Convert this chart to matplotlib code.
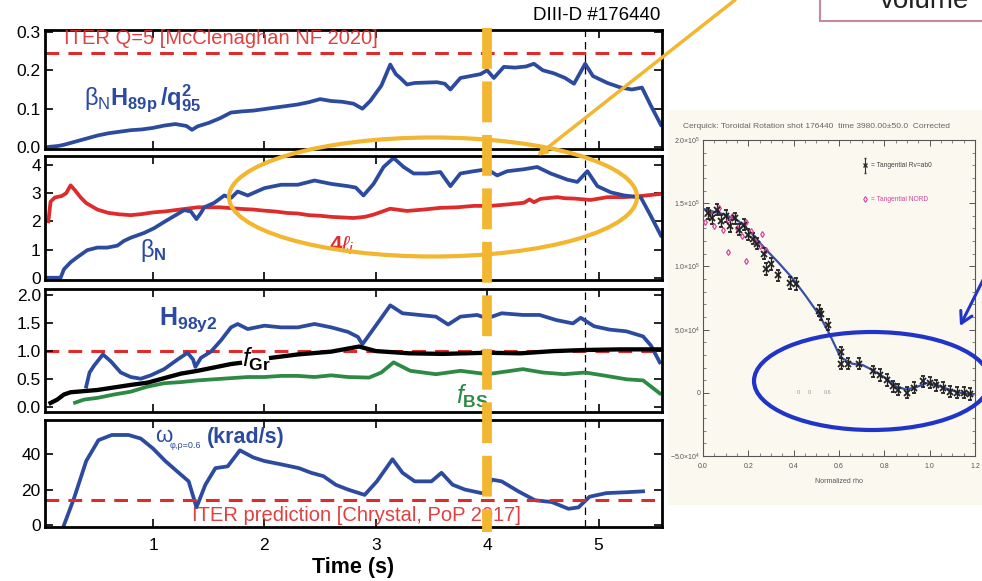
import numpy as np
import matplotlib
matplotlib.use('Agg')
import matplotlib.pyplot as plt
from matplotlib import transforms
from matplotlib.lines import Line2D
from matplotlib.patches import Ellipse, Rectangle
from matplotlib.ticker import MultipleLocator

plt.rcParams['font.family'] = ['Liberation Sans', 'DejaVu Sans']
plt.rcParams['mathtext.fontset'] = 'custom'
plt.rcParams['mathtext.rm'] = 'Liberation Sans'
plt.rcParams['mathtext.it'] = 'Liberation Sans:italic'
plt.rcParams['mathtext.bf'] = 'Liberation Sans:bold'

# --- DIII-D #176440 time traces ---
# beta_N H89p / q95^2
t_q = [0.05, 0.15, 0.2, 0.3, 0.4, 0.5, 0.6, 0.7, 0.8, 0.9, 1.0, 1.1, 1.2, 1.3, 1.35, 1.4,
       1.5, 1.6, 1.7, 1.8, 1.9, 2.0, 2.1, 2.2, 2.3, 2.4, 2.5, 2.6, 2.7, 2.8, 2.88, 2.95,
       3.05, 3.13, 3.18, 3.22, 3.28, 3.35, 3.45, 3.55, 3.62, 3.67, 3.76, 3.85, 3.94, 4.0,
       4.06, 4.15, 4.25, 4.35, 4.42, 4.5, 4.6, 4.7, 4.78, 4.88, 4.95, 5.08, 5.2, 5.3,
       5.39, 5.47, 5.56]
bnh_q2 = [0.0, 0.003, 0.006, 0.014, 0.022, 0.030, 0.036, 0.040, 0.044, 0.046, 0.050, 0.056,
          0.060, 0.055, 0.045, 0.054, 0.063, 0.075, 0.090, 0.093, 0.095, 0.099, 0.103, 0.107,
          0.111, 0.117, 0.125, 0.120, 0.118, 0.113, 0.100, 0.120, 0.160, 0.215, 0.190, 0.180,
          0.163, 0.167, 0.168, 0.169, 0.165, 0.150, 0.180, 0.185, 0.190, 0.200, 0.180, 0.209,
          0.207, 0.210, 0.217, 0.200, 0.192, 0.180, 0.165, 0.217, 0.185, 0.167, 0.155, 0.150,
          0.155, 0.108, 0.058]

# 4 * internal inductance
t_li = [0.06, 0.08, 0.12, 0.18, 0.22, 0.26, 0.3, 0.35, 0.4, 0.5, 0.6, 0.7, 0.8, 0.9, 1.0,
        1.1, 1.2, 1.3, 1.4, 1.5, 1.6, 1.7, 1.8, 1.9, 2.0, 2.1, 2.2, 2.3, 2.4, 2.5, 2.6, 2.7,
        2.8, 2.9, 2.98, 3.13, 3.28, 3.43, 3.58, 3.73, 3.88, 4.03, 4.18, 4.33, 4.38, 4.42,
        4.48, 4.63, 4.7, 4.78, 4.93, 5.08, 5.23, 5.38, 5.55]
four_li = [2.0, 2.7, 2.85, 2.9, 3.0, 3.28, 3.1, 2.85, 2.65, 2.42, 2.3, 2.25, 2.22, 2.26, 2.32,
           2.35, 2.4, 2.45, 2.5, 2.5, 2.5, 2.47, 2.44, 2.42, 2.38, 2.35, 2.3, 2.28, 2.22, 2.2,
           2.16, 2.14, 2.12, 2.16, 2.24, 2.45, 2.37, 2.42, 2.48, 2.5, 2.55, 2.55, 2.6, 2.66,
           2.78, 2.68, 2.8, 2.86, 2.82, 2.81, 2.76, 2.86, 2.86, 2.9, 2.97]

# beta_N
t_bn = [0.05, 0.17, 0.2, 0.26, 0.32, 0.41, 0.5, 0.59, 0.68, 0.74, 0.8, 0.92, 1.01, 1.1,
        1.19, 1.28, 1.34, 1.39, 1.43, 1.46, 1.55, 1.64, 1.7, 1.76, 1.85, 2.0, 2.15, 2.3,
        2.45, 2.6, 2.75, 2.82, 2.89, 2.98, 3.07, 3.16, 3.25, 3.34, 3.46, 3.58, 3.67, 3.76,
        3.88, 4.0, 4.09, 4.18, 4.33, 4.45, 4.57, 4.72, 4.81, 4.9, 4.99, 5.11, 5.23, 5.38,
        5.47, 5.56]
beta_n = [0.0, 0.0, 0.3, 0.55, 0.73, 0.98, 1.07, 1.07, 1.14, 1.31, 1.42, 1.59, 1.76, 1.98,
          2.19, 2.4, 2.35, 2.08, 2.3, 2.5, 2.66, 2.92, 2.83, 3.06, 2.92, 3.18, 3.3, 3.3, 3.45,
          3.33, 3.25, 3.2, 2.92, 3.33, 3.93, 4.25, 3.93, 3.7, 3.7, 3.75, 3.25, 3.7, 3.78,
          3.85, 3.63, 3.78, 3.85, 3.93, 3.7, 3.48, 3.4, 3.78, 3.25, 3.03, 2.92, 2.85, 2.19, 1.5]

# H98y2
t_h = [0.4, 0.43, 0.47, 0.55, 0.62, 0.71, 0.8, 0.89, 0.98, 1.1, 1.22, 1.31, 1.36, 1.38,
       1.43, 1.52, 1.61, 1.7, 1.76, 1.85, 2.0, 2.15, 2.3, 2.45, 2.6, 2.75, 2.84, 2.88, 3.0,
       3.13, 3.24, 3.39, 3.54, 3.65, 3.76, 3.91, 4.0, 4.13, 4.32, 4.47, 4.62, 4.77, 4.84,
       4.96, 5.1, 5.25, 5.4, 5.47, 5.55]
h98 = [0.37, 0.62, 0.74, 0.94, 0.82, 0.62, 0.54, 0.51, 0.57, 0.68, 0.85, 0.97, 0.85, 0.72,
       0.88, 0.99, 1.19, 1.42, 1.48, 1.39, 1.45, 1.42, 1.42, 1.48, 1.42, 1.34, 1.25, 1.12,
       1.45, 1.81, 1.67, 1.64, 1.61, 1.47, 1.61, 1.64, 1.58, 1.67, 1.64, 1.64, 1.55, 1.49,
       1.59, 1.44, 1.38, 1.35, 1.26, 1.1, 0.8]

# Greenwald fraction (gap where the label sits)
t_gr = [0.08, 0.14, 0.2, 0.26, 0.5, 0.8, 0.95, 1.1, 1.25, 1.4, 1.55, 1.7, 1.78, 1.9,
        2.06, 2.3, 2.6, 2.85, 3.0, 3.3, 3.6, 4.0, 4.3, 4.6, 4.9, 5.2, 5.55]
f_gr = [0.08, 0.14, 0.23, 0.27, 0.31, 0.4, 0.44, 0.52, 0.6, 0.65, 0.71, 0.77, 0.79, np.nan,
        0.88, 0.94, 0.99, 1.08, 1.0, 0.96, 0.95, 0.97, 0.96, 1.0, 1.02, 1.03, 1.03]

# bootstrap fraction
t_bs = [0.3, 0.38, 0.5, 0.65, 0.8, 0.95, 1.1, 1.25, 1.4, 1.55, 1.7, 1.85, 2.0, 2.15, 2.3,
        2.45, 2.6, 2.75, 2.94, 3.05, 3.16, 3.31, 3.54, 3.76, 4.0, 4.32, 4.5, 4.69, 4.88,
        5.07, 5.25, 5.4, 5.55]
f_bs = [0.085, 0.14, 0.17, 0.23, 0.28, 0.37, 0.43, 0.45, 0.48, 0.5, 0.52, 0.54, 0.54, 0.56,
        0.56, 0.54, 0.57, 0.54, 0.53, 0.62, 0.8, 0.65, 0.59, 0.65, 0.59, 0.68, 0.62, 0.59,
        0.62, 0.56, 0.5, 0.48, 0.25]

# toroidal rotation at rho = 0.6 (krad/s)
t_w = [0.2, 0.29, 0.4, 0.51, 0.63, 0.78, 0.89, 1.0, 1.11, 1.22, 1.32, 1.39, 1.47, 1.56,
       1.67, 1.78, 1.9, 2.0, 2.16, 2.31, 2.42, 2.53, 2.64, 2.75, 2.9, 3.01, 3.15, 3.24,
       3.35, 3.5, 3.59, 3.69, 3.8, 3.95, 3.99, 4.04, 4.13, 4.28, 4.43, 4.58, 4.73, 4.82,
       4.92, 5.07, 5.25, 5.4]
omega = [0, 15, 36, 47.7, 50.6, 50.6, 48.6, 43, 36, 30, 24.6, 10, 22.7, 32, 33, 42, 38, 36,
         34, 32, 29.4, 27.5, 22.7, 20, 17, 24.6, 37, 29.4, 24.6, 24.6, 29.4, 22.7, 20, 18, 18,
         25.6, 24.6, 19, 14, 13, 9.2, 10, 16, 18, 18.5, 19]

iter_q5 = 0.245
iter_omega = 14
t_mark = 4.0
t_end = 4.88

# --- rotation profile at t = 3980 ms ---
rho_fit = [0.0, 0.096, 0.156, 0.215, 0.274, 0.333, 0.393, 0.452, 0.511, 0.548, 0.57, 0.607,
           0.659, 0.704, 0.748, 0.807, 0.852, 0.896, 0.94, 0.985, 1.03, 1.074, 1.133, 1.193]
v_fit = [14.55, 14.1, 13.6, 12.6, 11.4, 10.3, 9.1, 7.7, 6.2, 5.0, 4.2, 2.8, 2.3, 2.2, 1.8,
         1.15, 0.5, 0.26, 0.44, 0.77, 0.64, 0.33, 0.0, -0.13]
rho_tan = [0.02, 0.04, 0.06, 0.08, 0.10, 0.12, 0.14, 0.16, 0.18, 0.20, 0.22, 0.24, 0.27,
           0.28, 0.30, 0.33, 0.385, 0.41, 0.51, 0.52, 0.55, 0.607, 0.61, 0.64, 0.69, 0.75,
           0.78, 0.81, 0.84, 0.86, 0.9, 0.93, 0.97, 1.0, 1.03, 1.06, 1.09, 1.12, 1.15, 1.18]
v_tan = [14.2, 13.8, 14.5, 13.6, 14.0, 13.2, 13.8, 12.9, 13.3, 12.5, 12.2, 11.8, 11.0, 9.8,
         10.2, 9.3, 8.7, 8.6, 6.5, 6.2, 5.4, 3.2, 2.3, 2.3, 2.3, 1.7, 1.4, 1.0, 0.5, 0.26,
         0.0, 0.4, 0.9, 0.8, 0.6, 0.4, 0.1, 0.0, 0.0, -0.1]
rho_vert = [0.01, 0.03, 0.05, 0.07, 0.09, 0.11, 0.13, 0.15, 0.17, 0.19, 0.21, 0.23, 0.25,
            0.26, 0.28, 0.11, 0.19]
v_vert = [13.5, 14.3, 13.2, 14.6, 12.9, 13.7, 14.0, 13.0, 12.4, 13.5, 12.8, 12.0, 11.6,
          12.6, 11.3, 11.1, 10.4]

BLUE = '#2c4a9e'
RED = '#de2b2b'
GREEN = '#2d8a45'
YELLOW = '#f2b630'
W, H = 982, 581


def box(x0, y0, x1, y1):
    return [x0 / W, 1 - y1 / H, (x1 - x0) / W, (y1 - y0) / H]


fig = plt.figure(figsize=(W / 100, H / 100), dpi=100)
fig.patch.set_facecolor('white')

# cream backing of the pasted profile plot
bg = fig.add_axes([0, 0, 1, 1], zorder=-5)
bg.set_xlim(0, W)
bg.set_ylim(H, 0)
bg.axis('off')
bg.add_patch(Rectangle((668, 110), 330, 395, facecolor='#fbf8f0', edgecolor='none'))

ax1 = fig.add_axes(box(45, 30, 662, 149))
ax2 = fig.add_axes(box(45, 156, 662, 280))
ax3 = fig.add_axes(box(45, 289, 662, 412))
ax4 = fig.add_axes(box(45, 420, 662, 527))
axes = [ax1, ax2, ax3, ax4]

for ax in axes:
    ax.set_xlim(0.03, 5.57)
    ax.set_xticks([1, 2, 3, 4, 5])
    for s in ax.spines.values():
        s.set_linewidth(2.0)
    ax.tick_params(direction='in', top=True, right=True, length=6, width=1.2,
                   labelsize=12.5, pad=3)
    ax.tick_params(axis='x', pad=8)
    if ax is not ax4:
        ax.tick_params(labelbottom=False)
    ax.axvline(t_end, color='k', lw=0.9, ls=(0, (6, 4)), zorder=1)

lw = 2.7
dash = (0, (4.5, 3))

ax1.plot(t_q, bnh_q2, color=BLUE, lw=lw)
ax1.axhline(iter_q5, color=RED, lw=2.2, ls=dash)
ax1.set_ylim(-0.005, 0.305)
ax1.set_yticks([0.0, 0.1, 0.2, 0.3])
ax1.set_yticklabels(['0.0', '0.1', '0.2', '0.3'])
ax1.text(0.2, 0.282, 'ITER Q=5 [McClenaghan NF 2020]', color=RED, fontsize=14.5,
         va='center', ha='left', alpha=0.9)
ax1.text(0.38, 0.128,
         r'$\mathrm{β}_{\mathrm{N}}\mathbf{H}_{\mathbf{89p}}\,\mathbf{/q}^{\mathbf{2}}_{\mathbf{95}}$',
         color=BLUE, fontsize=17, va='center', ha='left')

ax2.plot(t_li, four_li, color=RED, lw=lw)
ax2.plot(t_bn, beta_n, color=BLUE, lw=lw)
ax2.set_ylim(-0.08, 4.32)
ax2.set_yticks([0, 1, 2, 3, 4])
ax2.text(0.88, 0.95, r'$\mathrm{β}_{\mathbf{N}}$', color=BLUE, fontsize=17,
         va='center', ha='left')
ax2.text(2.58, 1.15, r'$\mathbf{4}\ell_{i}$', color=RED, fontsize=16, va='center', ha='left')

ax3.plot(t_h, h98, color=BLUE, lw=lw)
ax3.plot(t_bs, f_bs, color=GREEN, lw=lw)
ax3.axhline(1.0, color=RED, lw=2.2, ls=dash, zorder=1)
ax3.plot(t_gr, f_gr, color='k', lw=lw + 0.4)
ax3.set_ylim(-0.08, 2.1)
ax3.set_yticks([0.0, 0.5, 1.0, 1.5, 2.0])
ax3.set_yticklabels(['0.0', '0.5', '1.0', '1.5', '2.0'])
ax3.text(1.05, 1.55, r'$\mathbf{H}_{\mathbf{98y2}}$', color=BLUE, fontsize=18,
         va='center', ha='left')
ax3.text(1.8, 0.86, r'$f_{\mathbf{Gr}}$', color='k', fontsize=18, va='center', ha='left')
ax3.text(3.72, 0.2, r'$f_{\mathbf{BS}}$', color=GREEN, fontsize=18, va='center', ha='left')

ax4.plot(t_w, omega, color=BLUE, lw=lw)
ax4.axhline(iter_omega, color=RED, lw=2.2, ls=dash)
ax4.set_ylim(-1, 59)
ax4.set_yticks([0, 20, 40])
ax4.text(1.35, 5.5, 'ITER prediction [Chrystal, PoP 2017]', color=RED, fontsize=14.5,
         va='center', ha='left', alpha=0.9)
ax4.text(1.02, 50, 'ω', color=BLUE, fontsize=16, va='center', ha='left')
ax4.text(1.15, 44.5, 'φ,ρ=0.6', color=BLUE, fontsize=6.5, va='center', ha='left')
ax4.text(1.48, 49, '(krad/s)', color=BLUE, fontsize=15.5, fontweight='bold',
         va='center', ha='left')
ax4.set_xlabel('Time (s)', fontsize=15.5, fontweight='bold', labelpad=3)

fig.text(660 / W, 1 - 15 / H, 'DIII-D #176440', fontsize=13.5, ha='right', va='center')

# yellow marker at t = 4 s running through all panels
trans = transforms.blended_transform_factory(ax4.transData, fig.transFigure)
fig.add_artist(Line2D([t_mark, t_mark], [1 - 28 / H, 1 - 532 / H], transform=trans,
                      color=YELLOW, lw=7, ls=(0, (4.2, 1.3)), zorder=4))

# rotation profile
axp = fig.add_axes(box(703, 140, 975, 456))
axp.set_facecolor('#fbf8f0')
axp.plot(rho_fit, np.array(v_fit) * 1e4, color='#3a50a8', lw=1.6, zorder=2)
axp.errorbar(rho_tan, np.array(v_tan) * 1e4, yerr=0.45e4, fmt='x', color='#222222',
             ms=4, mew=1.3, elinewidth=1.0, capsize=1.5, zorder=3)
axp.plot(rho_vert, np.array(v_vert) * 1e4, 'd', color='#d6469a', ms=3, mfc='none',
         mew=0.9, zorder=3)
axp.errorbar([0.715], [1.80e5], yerr=0.06e5, fmt='x', color='#333333', ms=3,
             elinewidth=0.8, capsize=1)
axp.plot([0.715], [1.53e5], 'd', color='#d6469a', ms=3, mfc='none', mew=0.8)
axp.text(0.74, 1.80e5, '= Tangential Rv=ab0', fontsize=4.8, color='#444444', va='center')
axp.text(0.74, 1.53e5, '= Tangential NORD', fontsize=4.8, color='#d6469a', va='center')
for r, lab in [(0.42, '0'), (0.47, '0'), (0.55, '0.6')]:
    axp.text(r, 0.0, lab, fontsize=4, color='#999999', ha='center', va='center')
axp.set_xlim(0, 1.2)
axp.set_ylim(-5e4, 2e5)
axp.set_xticks([0.0, 0.2, 0.4, 0.6, 0.8, 1.0, 1.2])
axp.set_xticklabels(['0.0', '0.2', '0.4', '0.6', '0.8', '1.0', '1.2'])
axp.set_yticks([-5e4, 0, 5e4, 1e5, 1.5e5, 2e5])
axp.set_yticklabels([r'$-5.0{\times}10^4$', '0', r'$5.0{\times}10^4$',
                     r'$1.0{\times}10^5$', r'$1.5{\times}10^5$', r'$2.0{\times}10^5$'])
axp.xaxis.set_minor_locator(MultipleLocator(0.05))
axp.yaxis.set_minor_locator(MultipleLocator(1e4))
axp.tick_params(which='both', direction='in', top=True, right=True, labelsize=5,
                labelcolor='#555555', color='#555555')
axp.tick_params(axis='x', pad=5)
axp.tick_params(axis='y', pad=2)
axp.tick_params(which='major', length=4, width=0.7)
axp.tick_params(which='minor', length=2, width=0.5)
for s in axp.spines.values():
    s.set_linewidth(0.8)
    s.set_color('#555555')
axp.set_xlabel('Normalized rho', fontsize=5, color='#555555', labelpad=6)

# annotations drawn on top in pixel coordinates
ov = fig.add_axes([0, 0, 1, 1], zorder=10)
ov.set_xlim(0, W)
ov.set_ylim(H, 0)
ov.axis('off')
ov.patch.set_alpha(0)
ov.text(683, 127, 'Cerquick: Toroidal Rotation shot 176440  time 3980.00\u00b150.0  Corrected',
        fontsize=6, color='#666666', va='center', ha='left')
ov.add_patch(Ellipse((433, 197), 408, 119, fill=False, edgecolor=YELLOW, lw=3))
ov.annotate('', xy=(537, 156), xytext=(735, 0),
            arrowprops=dict(arrowstyle='-|>,head_length=0.5,head_width=0.25',
                            color=YELLOW, lw=2.5, shrinkA=0, shrinkB=0))
ov.add_patch(Ellipse((872, 381), 236, 98, fill=False, edgecolor='#2034c8', lw=3))
ov.annotate('', xy=(960, 326), xytext=(994, 258),
            arrowprops=dict(arrowstyle='->,head_length=0.8,head_width=0.45',
                            color='#2034c8', lw=2.2, shrinkA=0, shrinkB=0))
ov.add_patch(Rectangle((820, -5), 175, 25.5, facecolor='white', edgecolor='#c48a9c', lw=1.5))
ov.text(880, 8, 'volume', fontsize=20, color='#222222', va='baseline', ha='left')

fig.savefig('out.png', dpi=100)
